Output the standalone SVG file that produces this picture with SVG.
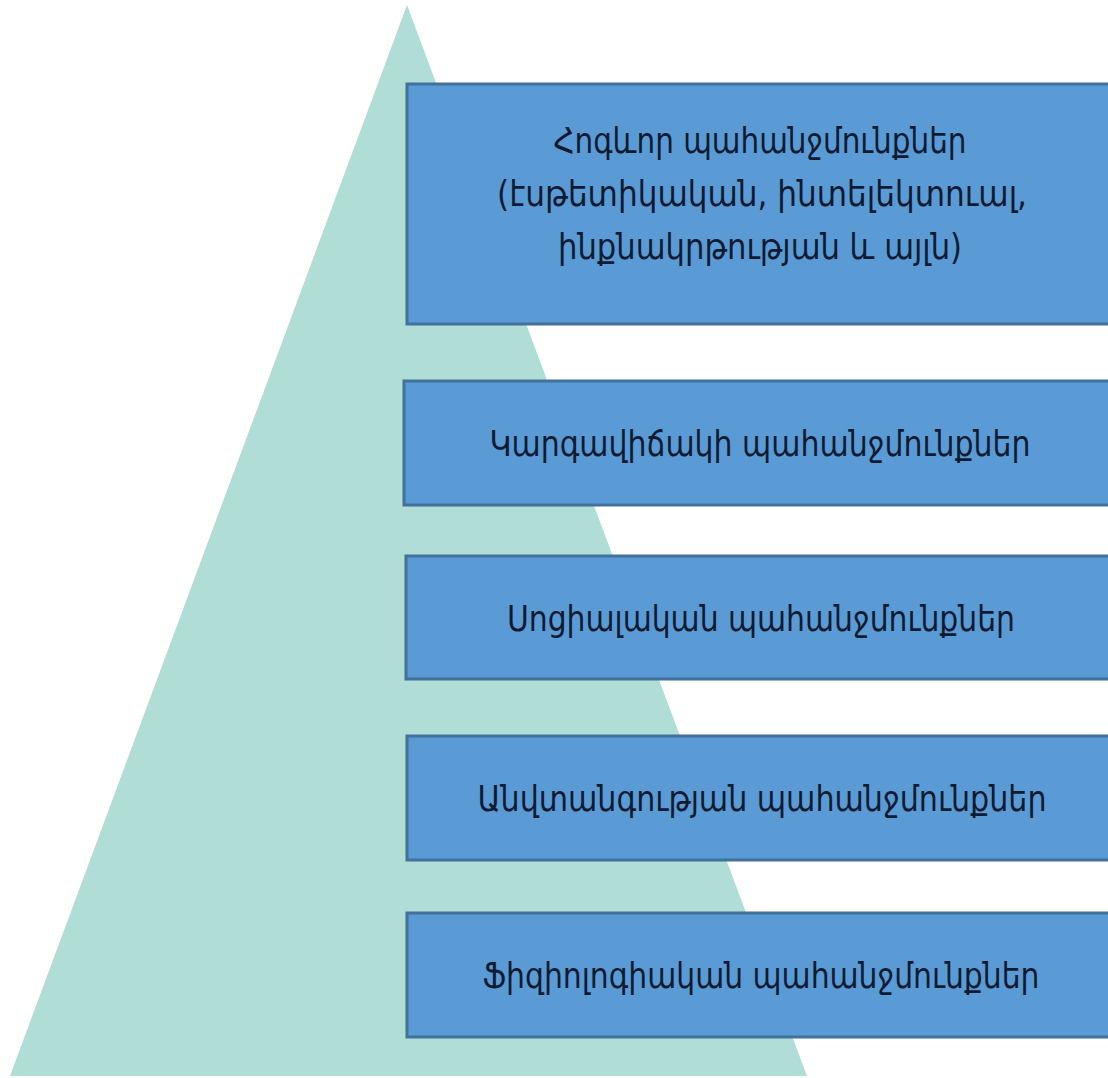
<svg xmlns="http://www.w3.org/2000/svg" width="1108" height="1078" viewBox="0 0 1108 1078">
  <style>
    .box { fill: #5B9BD5; stroke: #41719C; stroke-width: 3; }
    .lbl { font-family: "DejaVu Sans Condensed", "DejaVu Sans", sans-serif; font-size: 36px; fill: #0E1B33; text-anchor: middle; dominant-baseline: central; }
  </style>
  <rect x="0" y="0" width="1108" height="1078" fill="#FFFFFF"/>
  <g id="pyramid">
    <polygon points="407,5 807,1076 10,1076" fill="#B0DDD6"/>
  </g>
  <g id="connectors"></g>
  <g id="node-spiritual">
    <rect class="box" x="407" y="84" width="720" height="240"/>
    <text class="lbl" x="760" y="140" textLength="413" lengthAdjust="spacingAndGlyphs">Հոգևոր պահանջմունքներ</text>
    <text class="lbl" x="762" y="193" textLength="530" lengthAdjust="spacingAndGlyphs">(էսթետիկական, ինտելեկտուալ,</text>
    <text class="lbl" x="760" y="246" textLength="404" lengthAdjust="spacingAndGlyphs">ինքնակրթության և այլն)</text>
  </g>
  <g id="node-status">
    <rect class="box" x="404" y="381" width="720" height="124"/>
    <text class="lbl" x="760" y="443" textLength="541" lengthAdjust="spacingAndGlyphs">Կարգավիճակի պահանջմունքներ</text>
  </g>
  <g id="node-social">
    <rect class="box" x="406" y="556" width="720" height="123"/>
    <text class="lbl" x="761" y="618" textLength="508" lengthAdjust="spacingAndGlyphs">Սոցիալական պահանջմունքներ</text>
  </g>
  <g id="node-safety">
    <rect class="box" x="407" y="736" width="720" height="124"/>
    <text class="lbl" x="762" y="798" textLength="569" lengthAdjust="spacingAndGlyphs">Անվտանգության պահանջմունքներ</text>
  </g>
  <g id="node-physiological">
    <rect class="box" x="407" y="913" width="720" height="124"/>
    <text class="lbl" x="761" y="975" textLength="557" lengthAdjust="spacingAndGlyphs">Ֆիզիոլոգիական պահանջմունքներ</text>
  </g>
</svg>
